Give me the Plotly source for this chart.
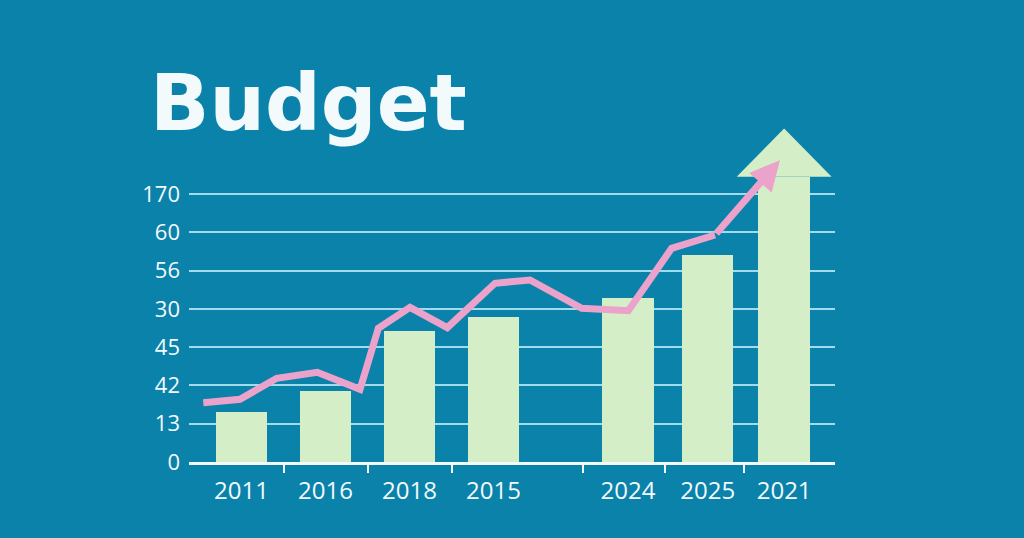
import plotly.graph_objects as go

# ---- data ----
categories = ["2011", "2016", "2018", "2015", "2024", "2025", "2021"]
cat_pos = [1, 2, 3, 4, 5.6, 6.55, 7.46]
bar_values = [1.31, 1.86, 3.41, 3.79, 4.29, 5.40, 7.45]
arrow_tip = 8.71  # top of the big arrow head on the last bar

y_tick_pos = [0, 1, 2, 3, 4, 5, 6, 7]
y_tick_text = ["0", "13", "42", "45", "30", "56", "60", "170"]

divider_ticks = [1.5, 2.5, 3.5, 5.07, 6.04, 6.98]

line_x = [0.545, 0.982, 1.419, 1.902, 2.411, 2.629, 3.006, 3.45, 4.018,
          4.435, 5.05, 5.605, 6.121, 6.637]
line_y = [1.548, 1.637, 2.185, 2.342, 1.898, 3.491, 4.039, 3.507, 4.666,
          4.752, 4.013, 3.95, 5.58, 5.927]
line_end_x = 7.41
line_end_y = 7.88

BG = "#0a82aa"
BAR = "#d4efc8"
PINK = "#eba2cb"
GRID = "#9fdcec"
TXT = "#f2fafc"

fig = go.Figure()

fig.add_trace(go.Bar(
    x=cat_pos, y=bar_values, width=0.613,
    marker=dict(color=BAR, line=dict(width=0)),
    hoverinfo="skip", showlegend=False,
))

# big arrow head on the last bar
hx = cat_pos[-1]
hw = 0.565
fig.add_trace(go.Scatter(
    x=[hx - hw, hx, hx + hw, hx - hw],
    y=[bar_values[-1], arrow_tip, bar_values[-1], bar_values[-1]],
    mode="lines", fill="toself", fillcolor=BAR,
    line=dict(width=0, color=BAR), hoverinfo="skip", showlegend=False,
))

fig.add_trace(go.Scatter(
    x=line_x, y=line_y, mode="lines",
    line=dict(color=PINK, width=7, shape="linear"),
    hoverinfo="skip", showlegend=False,
))

# invisible trace to activate xaxis2 (divider ticks)
fig.add_trace(go.Scatter(x=[cat_pos[0]], y=[0], xaxis="x2", mode="markers",
                         marker=dict(opacity=0), hoverinfo="skip", showlegend=False))

fig.add_annotation(
    x=line_end_x, y=line_end_y, ax=line_x[-1], ay=line_y[-1],
    xref="x", yref="y", axref="x", ayref="y",
    showarrow=True, arrowhead=2, arrowsize=0.85, arrowwidth=7,
    arrowcolor=PINK, text="", standoff=0, startstandoff=0,
)

fig.add_annotation(
    text="<b>Budget</b>", xref="paper", yref="paper",
    x=-0.063, y=1.05, xanchor="left", yanchor="middle",
    showarrow=False,
    font=dict(family="DejaVu Sans", size=78, color=TXT),
)

x_lo = 0.375
x_hi = x_lo + 646 / 84

fig.update_layout(
    width=1024, height=538,
    margin=dict(l=189, r=189, t=120, b=76, pad=0),
    paper_bgcolor=BG, plot_bgcolor=BG,
    bargap=0,
    xaxis=dict(
        range=[x_lo, x_hi], tickvals=cat_pos, ticktext=categories,
        showgrid=False, zeroline=False, showline=False,
        ticks="", ticklabelstandoff=12,
        tickfont=dict(family="Open Sans", size=24, color=TXT),
        fixedrange=True,
    ),
    xaxis2=dict(
        range=[x_lo, x_hi], overlaying="x", side="bottom",
        tickvals=divider_ticks, ticktext=[""] * len(divider_ticks),
        ticks="outside", ticklen=8, tickwidth=2, tickcolor=TXT,
        showgrid=False, zeroline=False, showline=True,
        linecolor=TXT, linewidth=3, anchor="y",
    ),
    yaxis=dict(
        range=[0, 342 / 38.3], tickvals=y_tick_pos, ticktext=y_tick_text,
        showgrid=True, gridcolor=GRID, gridwidth=1.5,
        zeroline=False, showline=False, ticks="",
        ticklabelstandoff=8,
        tickfont=dict(family="Open Sans", size=22, color=TXT),
        fixedrange=True,
    ),
)

fig.write_html("out.html")
